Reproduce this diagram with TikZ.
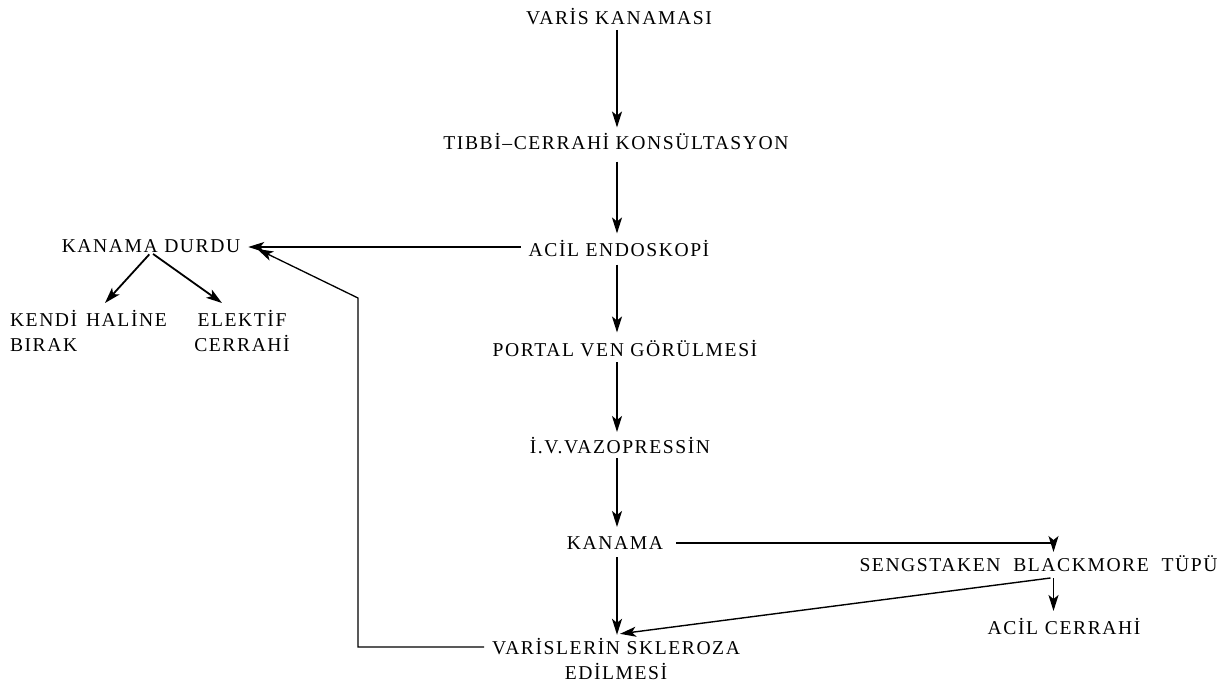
\documentclass[tikz,border=0pt]{standalone}
\usepackage{fontspec}
\setmainfont{Liberation Serif}[LetterSpace=8]
\usetikzlibrary{arrows.meta,calc}
\begin{document}
\begin{tikzpicture}[x=1pt,y=-1pt,
  lbl/.style={inner sep=0pt,outer sep=0pt,font=\fontsize{19.6}{26}\selectfont,text height=13pt,text depth=0pt},
  mlbl/.style={inner sep=0pt,outer sep=0pt,font=\fontsize{19.6}{25.5}\selectfont},
  arr/.style={line width=1.8pt,-{Stealth[length=16pt,width=10pt,inset=4pt]}},
  thin arr/.style={arr,line width=1.2pt}]
\useasboundingbox (0,0) rectangle (1232,693);
\coordinate (spine) at (617,0);

% main column
\node[lbl] (VK) at (619,18) {VARİS KANAMASI};
\node[lbl] (TC) at (616,143) {TIBBİ–CERRAHİ KONSÜLTASYON};
\node[lbl] (AE) at (619,250) {ACİL ENDOSKOPİ};
\node[lbl] (PV) at (625,350) {PORTAL VEN GÖRÜLMESİ};
\node[lbl] (IV) at (620,447) {İ.V.VAZOPRESSİN};
\node[lbl] (KA) at (615,543) {KANAMA};
\node[mlbl,align=center,anchor=base] (VS) at (616,679.5) {VARİSLERİN SKLEROZA\\EDİLMESİ};

% left branch
\node[lbl] (KD) at (151,246) {KANAMA DURDU};
\node[mlbl,align=left,anchor=base west] (KH) at (10,351.5) {KENDİ\hspace{0.45em}HALİNE\\BIRAK};
\node[mlbl,align=center,anchor=base] (EC) at (242,351.5) {ELEKTİF\\CERRAHİ};

% right branch
\node[lbl] (SB) at (1038.5,565) {SENGSTAKEN\hspace{0.65em}BLACKMORE\hspace{0.65em}TÜPÜ};
\node[lbl] (AC) at (1064,628) {ACİL\hspace{0.35em}CERRAHİ};

\coordinate (khtip) at (105,303);
\coordinate (ectip) at (222,303);
\coordinate (turnlow) at (358,647);
\coordinate (turnhigh) at (358,298);

% vertical chain
\draw[arr,shorten <=5.5pt,shorten >=9pt] (VK.south -| spine) -- (TC.north -| spine);
\draw[arr,shorten <=12pt,shorten >=10pt] (TC.south -| spine) -- (AE.north -| spine);
\draw[arr,shorten <=8pt,shorten >=11pt] (AE.south -| spine) -- (PV.north -| spine);
\draw[arr,shorten <=5.5pt,shorten >=8.5pt] (PV.south -| spine) -- (IV.north -| spine);
\draw[arr,shorten <=4.5pt,shorten >=9.5pt] (IV.south -| spine) -- (KA.north -| spine);
\draw[arr,shorten <=7.5pt,shorten >=3pt] (KA.south -| spine) -- (VS.north -| spine);

% endoscopy -> bleeding stopped
\draw[thin arr,shorten <=8pt,shorten >=8pt] ([yshift=3pt]AE.west) -- ([yshift=3pt]AE.west -| KD.east);

% bleeding stopped -> options
\draw[arr,shorten <=2.5pt] (KD.south) -- (khtip);
\draw[arr,shorten <=2.5pt] (KD.south) -- (ectip);

% sclerotherapy back to bleeding stopped
\draw[arr,line width=1.3pt] ([xshift=-8pt]VS.north west |- turnlow) -- (turnlow) -- (turnhigh) -- ([xshift=17pt,yshift=-3pt]KD.east);

% bleeding -> tube
\draw[thin arr,shorten <=13pt] (KA.east) -| ([xshift=15pt,yshift=6.5pt]SB.north);

% tube -> surgery and tube -> sclerotherapy
\draw[arr,shorten <=6.5pt,shorten >=10.5pt] ([xshift=15pt]SB.south) -- ([xshift=15pt]SB.south |- AC.north);
\draw[arr,line width=1.4pt] ([xshift=12pt,yshift=-6.5pt]SB.south) -- ([xshift=4pt,yshift=4pt]VS.north);
\end{tikzpicture}
\end{document}
